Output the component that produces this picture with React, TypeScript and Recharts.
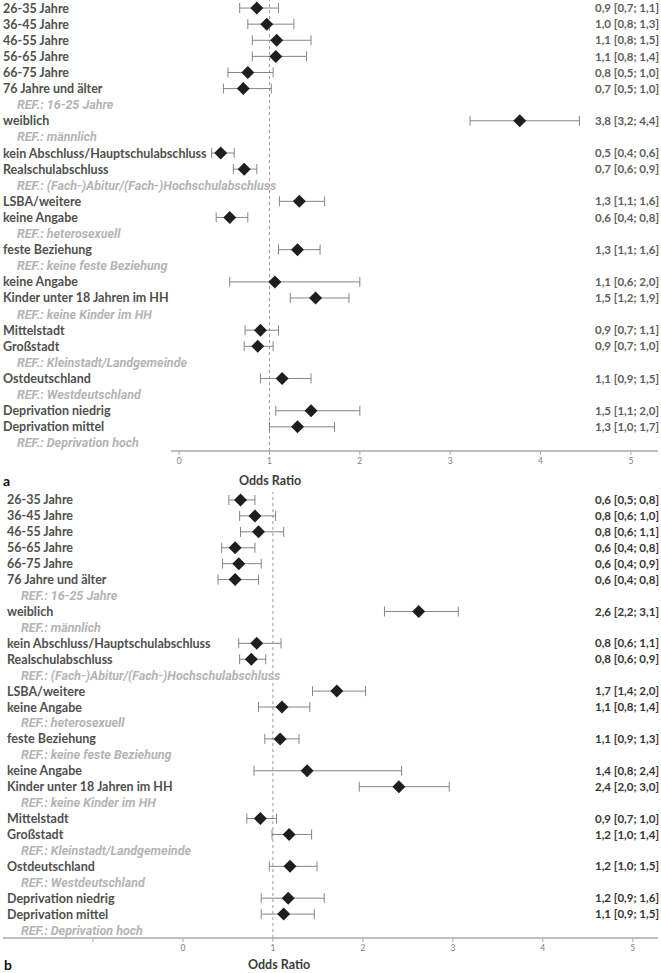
import React from "react";
import {
  ScatterChart,
  Scatter,
  XAxis,
  YAxis,
  ErrorBar,
  ReferenceLine,
} from "recharts";

// Row captions (same for both panels); "REF.:" rows are reference categories without an estimate
const rowLabels = [
  "26-35 Jahre",
  "36-45 Jahre",
  "46-55 Jahre",
  "56-65 Jahre",
  "66-75 Jahre",
  "76 Jahre und älter",
  "REF.: 16-25 Jahre",
  "weiblich",
  "REF.: männlich",
  "kein Abschluss/Hauptschulabschluss",
  "Realschulabschluss",
  "REF.: (Fach-)Abitur/(Fach-)Hochschulabschluss",
  "LSBA/weitere",
  "keine Angabe",
  "REF.: heterosexuell",
  "feste Beziehung",
  "REF.: keine feste Beziehung",
  "keine Angabe",
  "Kinder unter 18 Jahren im HH",
  "REF.: keine Kinder im HH",
  "Mittelstadt",
  "Großstadt",
  "REF.: Kleinstadt/Landgemeinde",
  "Ostdeutschland",
  "REF.: Westdeutschland",
  "Deprivation niedrig",
  "Deprivation mittel",
  "REF.: Deprivation hoch",
];

// Panel a: odds ratios with 95% confidence limits
const orA = [0.86, 0.97, 1.08, 1.07, 0.76, 0.71, null, 3.77, null, 0.46, 0.72, null, 1.33, 0.56, null, 1.31, null, 1.06, 1.51, null, 0.9, 0.87, null, 1.14, null, 1.46, 1.31, null];
const loA = [0.67, 0.76, 0.81, 0.81, 0.54, 0.49, null, 3.22, null, 0.36, 0.6, null, 1.11, 0.41, null, 1.1, null, 0.56, 1.23, null, 0.73, 0.72, null, 0.9, null, 1.07, 1.0, null];
const hiA = [1.1, 1.27, 1.46, 1.41, 1.04, 1.02, null, 4.43, null, 0.61, 0.86, null, 1.61, 0.76, null, 1.56, null, 2.0, 1.88, null, 1.1, 1.04, null, 1.46, null, 2.0, 1.72, null];

// Panel b: odds ratios with 95% confidence limits
const orB = [0.64, 0.8, 0.84, 0.58, 0.62, 0.58, null, 2.62, null, 0.82, 0.76, null, 1.71, 1.1, null, 1.08, null, 1.38, 2.4, null, 0.86, 1.18, null, 1.19, null, 1.17, 1.12, null];
const loB = [0.51, 0.63, 0.64, 0.43, 0.44, 0.39, null, 2.24, null, 0.62, 0.63, null, 1.44, 0.84, null, 0.91, null, 0.79, 1.96, null, 0.71, 0.99, null, 0.96, null, 0.87, 0.87, null];
const hiB = [0.8, 1.03, 1.12, 0.8, 0.87, 0.84, null, 3.06, null, 1.09, 0.92, null, 2.03, 1.41, null, 1.29, null, 2.43, 2.96, null, 1.04, 1.43, null, 1.49, null, 1.57, 1.46, null];

// Axis ticks
const ticksA = [0, 1, 2, 3, 4, 5];
const ticksB = [-1, 0, 1, 2, 3, 4, 5];

const FONT = "Lato, 'Open Sans', sans-serif";
const REF_FONT = "Roboto, 'Noto Sans', sans-serif";
const W = 661;
const rowTicks = rowLabels.map((_, i) => i);

const fmt = (v: number) => v.toFixed(1).replace(".", ",");

type Row = { row: number; or: number; err: [number, number]; text: string };

function buildRows(or: (number | null)[], lo: (number | null)[], hi: (number | null)[]): Row[] {
  const out: Row[] = [];
  or.forEach((v, i) => {
    if (v == null) return;
    const l = lo[i] as number;
    const h = hi[i] as number;
    out.push({
      row: i,
      or: v,
      err: [v - l, h - v],
      text: `${fmt(v)} [${fmt(l)}; ${fmt(h)}]`,
    });
  });
  return out;
}

const Diamond = (props: any) => {
  const { cx, cy } = props;
  if (cx == null || cy == null) return null;
  const r = 6.5;
  return (
    <polygon
      points={`${cx},${cy - r} ${cx + r},${cy} ${cx},${cy + r} ${cx - r},${cy}`}
      fill="#1e1e1e"
    />
  );
};

type PanelProps = {
  or: (number | null)[];
  lo: (number | null)[];
  hi: (number | null)[];
  xDomain: [number, number];
  xTicks: number[];
  height: number;
  margin: { top: number; right: number; bottom: number; left: number };
  axisHeight: number;
  labelX: number;
  valueFill: string;
};

function ForestPanel(p: PanelProps) {
  const rows = buildRows(p.or, p.lo, p.hi);
  const textByRow: Record<number, string> = {};
  rows.forEach((r) => (textByRow[r.row] = r.text));
  const rightX = W - p.margin.right;

  const renderRowLabel = (tp: any) => {
    const text = rowLabels[Math.round(Number(tp.payload.value))];
    if (!text) return <g />;
    const isRef = text.startsWith("REF.:");
    return (
      <text
        x={isRef ? p.labelX + 14 : p.labelX}
        y={tp.y}
        dy="0.36em"
        textAnchor="start"
        fontFamily={isRef ? REF_FONT : FONT}
        fontSize={isRef ? 12.5 : 12.5}
        fontWeight={700}
        fontStyle={isRef ? "italic" : "normal"}
        fill={isRef ? "#b4b4b4" : "#4f4f4f"}
      >
        {text}
      </text>
    );
  };

  const renderValueLabel = (tp: any) => {
    const text = textByRow[Math.round(Number(tp.payload.value))];
    if (!text) return <g />;
    return (
      <text
        x={rightX}
        y={tp.y}
        dy="0.36em"
        textAnchor="end"
        fontFamily={FONT}
        fontSize={11.5}
        fontWeight={700}
        fill={p.valueFill}
      >
        {text}
      </text>
    );
  };

  return (
    <ScatterChart width={W} height={p.height} margin={p.margin}>
      <XAxis
        type="number"
        dataKey="or"
        domain={p.xDomain}
        allowDataOverflow
        ticks={p.xTicks}
        interval={0}
        height={p.axisHeight}
        tickFormatter={(v: number) => (v < 0 ? "" : String(v))}
        tick={{ fontSize: 8.5, fill: "#808080", fontFamily: FONT }}
        axisLine={{ stroke: "#a8a8a8", strokeWidth: 1.5 }}
        tickLine={{ stroke: "#a8a8a8" }}
        tickSize={4}
        tickMargin={3}
      />
      <YAxis
        yAxisId="left"
        type="number"
        dataKey="row"
        domain={[-0.5, rowLabels.length - 0.5]}
        allowDataOverflow
        reversed
        ticks={rowTicks}
        interval={0}
        width={1}
        axisLine={false}
        tickLine={false}
        tick={renderRowLabel}
      />
      <YAxis
        yAxisId="right"
        orientation="right"
        type="number"
        dataKey="row"
        domain={[-0.5, rowLabels.length - 0.5]}
        allowDataOverflow
        reversed
        ticks={rowTicks}
        interval={0}
        width={1}
        axisLine={false}
        tickLine={false}
        tick={renderValueLabel}
      />
      <ReferenceLine
        x={1}
        yAxisId="left"
        stroke="#9a9a9a"
        strokeDasharray="3 3"
        strokeWidth={1}
      />
      <Scatter
        yAxisId="left"
        data={rows}
        shape={Diamond}
        isAnimationActive={false}
      >
        <ErrorBar
          dataKey="err"
          direction="x"
          width={5}
          stroke="#858585"
          strokeWidth={1}
          isAnimationActive={false}
        />
      </Scatter>
      <Scatter yAxisId="right" data={rows} shape={() => <g />} isAnimationActive={false} />
    </ScatterChart>
  );
}

const captionStyle: React.CSSProperties = {
  position: "absolute",
  fontFamily: FONT,
  fontWeight: 700,
  lineHeight: "14px",
  whiteSpace: "nowrap",
};

export default function App() {
  return (
    <div style={{ position: "absolute", left: 0, top: 0, width: W, height: 973, background: "#fff" }}>
      <div style={{ position: "absolute", left: 0, top: 0 }}>
        <ForestPanel
          or={orA}
          lo={loA}
          hi={hiA}
          xDomain={[-0.09, 5.3]}
          xTicks={ticksA}
          height={490}
          margin={{ top: 0, right: 2, bottom: 0, left: 170 }}
          axisHeight={39}
          labelX={3}
          valueFill="#5e5e5e"
        />
      </div>
      <div style={{ position: "absolute", left: 0, top: 490 }}>
        <ForestPanel
          or={orB}
          lo={loB}
          hi={hiB}
          xDomain={[-2, 5.28]}
          xTicks={ticksB}
          height={483}
          margin={{ top: 2, right: 2, bottom: 0, left: 2 }}
          axisHeight={35}
          labelX={7}
          valueFill="#363636"
        />
      </div>
      <div style={{ ...captionStyle, left: 3, top: 474, fontSize: 14, color: "#111" }}>a</div>
      <div style={{ ...captionStyle, left: 239, top: 474, fontSize: 12.5, color: "#3c3c3c" }}>Odds Ratio</div>
      <div style={{ ...captionStyle, left: 4, top: 958, fontSize: 14, color: "#111" }}>b</div>
      <div style={{ ...captionStyle, left: 248, top: 958, fontSize: 12.5, color: "#3c3c3c" }}>Odds Ratio</div>
    </div>
  );
}
